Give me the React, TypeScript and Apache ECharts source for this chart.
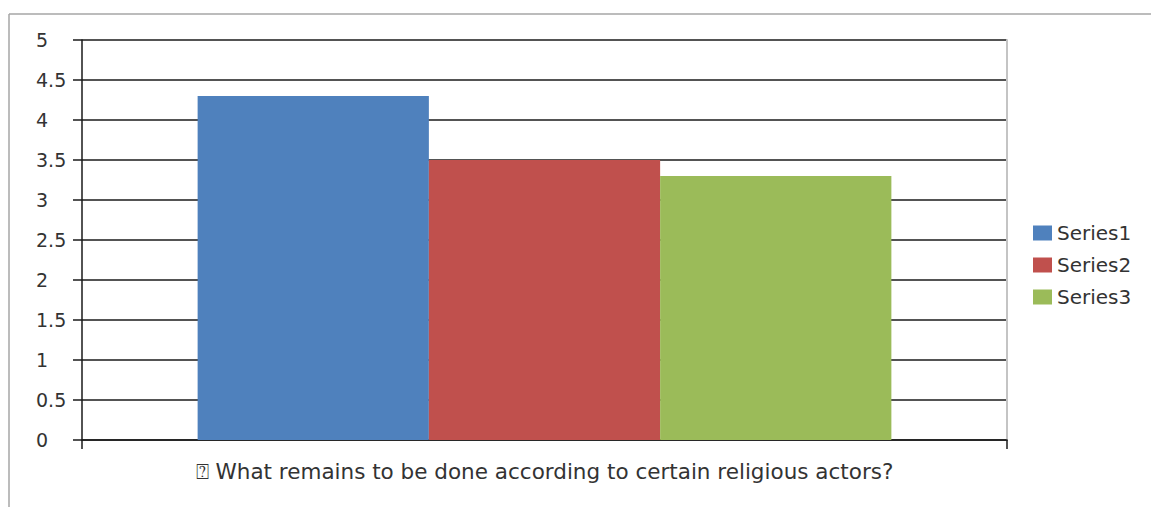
import React, { useEffect, useRef } from "react";
import * as echarts from "echarts";

const categories = ["\u2370 What remains to be done according to certain religious actors?"];
const seriesNames = ["Series1", "Series2", "Series3"];
const seriesValues = [[4.3], [3.5], [3.3]];
const seriesColors = ["#4F81BD", "#C0504D", "#9BBB59"];
const yMin = 0;
const yMax = 5;
const yInterval = 0.5;

const FONT = "'DejaVu Sans', sans-serif";

export default function App() {
  const ref = useRef<HTMLDivElement>(null);
  useEffect(() => {
    if (!ref.current) return;
    const chart = echarts.init(ref.current, undefined, { renderer: "svg" });
    chart.setOption({
      animation: false,
      backgroundColor: "#ffffff",
      textStyle: { fontFamily: FONT },
      grid: { left: 82, top: 40, right: 144, bottom: 67, containLabel: false },
      legend: {
        orient: "vertical",
        left: 1028,
        top: 218,
        itemWidth: 19,
        itemHeight: 15,
        itemGap: 12,
        icon: "rect",
        textStyle: { fontSize: 20, color: "#333", fontFamily: FONT },
        data: seriesNames,
      },
      xAxis: {
        type: "category",
        data: categories,
        axisLine: { show: true, lineStyle: { color: "#1a1a1a", width: 1.5 } },
        axisTick: { show: true, length: 9, lineStyle: { color: "#1a1a1a", width: 1.5 } },
        axisLabel: { fontSize: 21.5, color: "#333", margin: 20, fontFamily: FONT },
        splitLine: { show: false },
      },
      yAxis: [
        {
          type: "value",
          min: yMin,
          max: yMax,
          interval: yInterval,
          axisLine: { show: true, lineStyle: { color: "#1a1a1a", width: 1.5 } },
          axisTick: { show: true, length: 9, lineStyle: { color: "#1a1a1a", width: 1.5 } },
          axisLabel: { fontSize: 19, color: "#333", align: "left", margin: 46, fontFamily: FONT },
          splitLine: { show: true, lineStyle: { color: "#1a1a1a", width: 1.5 } },
        },
        {
          type: "value",
          min: yMin,
          max: yMax,
          interval: yInterval,
          position: "right",
          axisLine: { show: true, lineStyle: { color: "#c4c4c4", width: 2 } },
          axisTick: { show: false },
          axisLabel: { show: false },
          splitLine: { show: false },
        },
      ],
      series: seriesNames.map((name, i) => ({
        name,
        type: "bar",
        data: seriesValues[i],
        barGap: "0%",
        barCategoryGap: "25%",
        itemStyle: { color: seriesColors[i] },
        z: 3,
      })),
      graphic: [
        {
          type: "line",
          shape: { x1: 9, y1: 14, x2: 1151, y2: 14 },
          style: { stroke: "#a6a6a6", lineWidth: 1.5 },
        },
        {
          type: "line",
          shape: { x1: 9, y1: 14, x2: 9, y2: 507 },
          style: { stroke: "#a6a6a6", lineWidth: 1.5 },
        },
      ],
    });
    return () => chart.dispose();
  }, []);
  return (
    <div
      ref={ref}
      style={{ position: "fixed", left: 0, top: 0, width: 1151, height: 507, background: "#fff" }}
    />
  );
}
